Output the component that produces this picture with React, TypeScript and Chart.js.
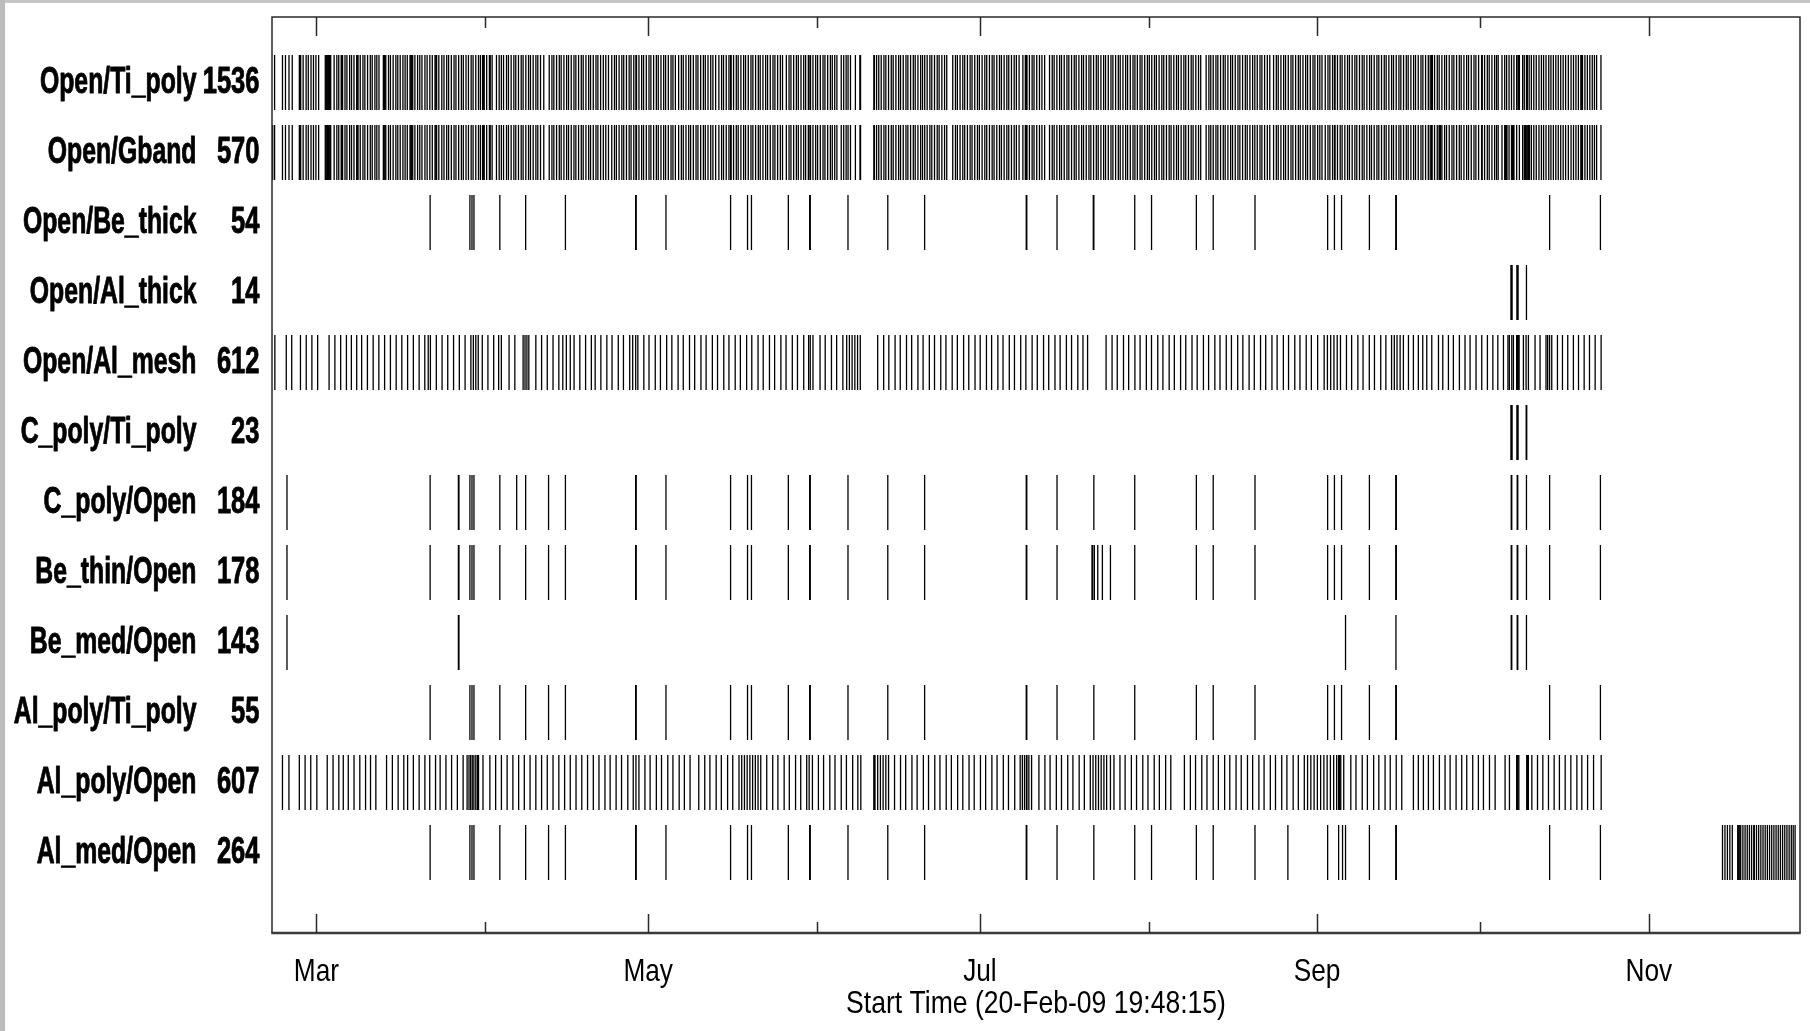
import React, { useEffect, useRef } from "react";
import { Chart, registerables } from "chart.js";

Chart.register(...registerables);

// ---------- labels ----------
const rowNames = [
  "Open/Ti_poly", "Open/Gband", "Open/Be_thick", "Open/Al_thick", "Open/Al_mesh", "C_poly/Ti_poly",
  "C_poly/Open", "Be_thin/Open", "Be_med/Open", "Al_poly/Ti_poly", "Al_poly/Open", "Al_med/Open",
];
const rowCounts = [1536, 570, 54, 14, 612, 23, 184, 178, 143, 55, 607, 264];

// x values are fractional day-of-year 2009 (1 Jan 00:00 = 0)
const axisStartDay = 50.825; // 20-Feb-09 19:48:15
const axisEndDay = 331.8;
const monthTickDays = [59, 90, 120, 151, 181, 212, 243, 273, 304];
const monthTickLabels = ["Mar", "", "May", "", "Jul", "", "Sep", "", "Nov"];
const xTitle = "Start Time (20-Feb-09 19:48:15)";

// ---------- event times ----------
const openBase = [
  51.3, 52.75, 53.3, 53.95, 54.55,
  55.85, 55.95, 56.1, 56.55, 57.1, 57.5, 58.0, 58.45, 58.9, 59.4,
  60.62, 60.75, 60.9, 61.05, 61.2, 61.35, 61.5, 61.62,
  62.25, 62.75, 63.1, 63.55, 63.65, 63.8, 64.25, 64.6, 65.1, 65.45, 65.9,
  66.4, 66.5, 66.65, 67.05, 67.55, 67.9, 68.4, 68.9, 69.25, 69.75, 70.1, 70.5,
  71.3, 71.45, 71.6, 71.75, 72.25, 72.6, 73.1, 73.6, 73.95, 74.4, 74.9, 75.3, 75.7, 76.2, 76.35, 76.5, 76.7,
  77.1, 77.6, 78.0, 78.4, 78.95, 79.35, 79.85, 80.3, 80.8,
  80.95, 81.1, 81.5, 82.05, 82.45, 82.95, 83.3, 83.8, 84.3, 84.65, 85.15, 85.65, 86.0, 86.5, 86.95, 87.45,
  87.8, 88.3, 88.8, 89.15, 89.55, 89.7, 89.85, 90.3,
  90.8, 90.95, 91.3,
  92.1, 92.6, 93.0, 93.4, 93.95, 94.3, 94.8, 95.3, 95.65, 96.15, 96.65, 97.0, 97.5, 98.0, 98.35, 98.85, 99.35,
  99.7, 100.2, 100.8,
  101.8, 102.3, 102.65, 103.15, 103.65, 104.0, 104.5, 105.0, 105.35, 105.85, 106.35, 106.7, 107.2, 107.7,
  108.05, 108.55, 109.05, 109.4, 109.9, 110.4, 110.75, 111.25, 111.75, 112.2, 112.7,
  113.3, 113.8, 114.15, 114.65, 115.15, 115.5, 116.0, 116.5, 116.85, 117.35, 117.75, 117.85, 118.3, 118.8,
  119.15, 119.65, 120.15, 120.5, 121.0, 121.5, 121.85, 122.35, 122.85, 123.2, 123.7, 124.2, 124.55, 125.0,
  125.6, 126.1, 126.45, 126.95, 127.45, 127.8, 128.3, 128.8, 129.15, 129.65, 130.15, 130.5, 131.0, 131.5,
  131.9, 132.4,
  133.0, 133.5, 133.85, 134.35, 134.85, 135.15, 135.25, 135.7, 136.2, 136.55, 137.05, 137.55, 137.9, 138.4,
  138.9, 139.25, 139.75, 140.25, 140.6, 141.1, 141.6, 141.95, 142.45, 142.95, 143.3, 143.8, 144.3, 144.7,
  145.4, 145.9, 146.25, 146.75, 147.25, 147.6, 148.1, 148.6, 148.95, 149.45, 149.75, 149.85, 150.3, 150.8,
  151.15, 151.65, 152.15, 152.5, 153.0, 153.5, 153.85, 154.3, 154.7,
  155.5, 155.95, 156.4, 156.75, 157.2,
  158.1, 158.95, 159.05,
  161.5, 161.6, 162.0, 162.4, 162.85, 163.35, 163.7, 164.2, 164.7, 165.05, 165.55, 166.05, 166.4, 166.9,
  167.4, 167.75, 168.25, 168.75, 169.1, 169.6, 170.1, 170.45, 170.85, 171.3, 171.8, 172.15, 172.65, 173.15,
  173.5, 174.0, 174.5, 174.9,
  176.0, 176.5, 176.85, 177.35, 177.85, 178.2, 178.7, 179.2, 179.55, 180.05, 180.55, 180.9, 181.4, 181.9,
  182.25, 182.75, 183.25, 183.6, 184.1, 184.6, 184.95, 185.45, 185.95, 186.3, 186.8, 187.3, 187.7, 188.2,
  188.9, 189.35, 189.55, 189.65, 190.1, 190.6, 190.95, 191.45, 191.95, 192.4, 192.9,
  193.8, 194.3, 194.65, 195.15, 195.65, 196.0, 196.5, 197.0, 197.35, 197.85, 198.35, 198.7, 199.2, 199.7,
  200.05, 200.55, 201.05, 201.4, 201.9, 202.4, 202.75, 203.25, 203.75, 204.1, 204.6, 205.1, 205.45, 205.95,
  206.45, 206.8, 207.3, 207.8, 208.15, 208.65, 209.15, 209.5, 209.95, 210.45, 210.8, 211.3, 211.8, 212.15,
  212.6, 213.1, 213.45, 213.95, 214.45, 214.8, 215.3, 215.8, 216.15, 216.65, 217.15, 217.5, 218.0, 218.5,
  218.85, 219.35, 219.85, 220.2, 220.7, 221.2, 221.6,
  222.6, 223.1, 223.45, 223.9, 224.4, 224.75, 225.25, 225.75, 226.1, 226.6, 227.1, 227.45, 227.95, 228.45,
  228.8, 229.3, 229.8, 230.15, 230.65, 231.15, 231.55, 232.0, 232.5, 232.85, 233.35, 233.85, 234.3,
  235.0, 235.5, 235.85, 236.35, 236.85, 237.2, 237.7, 238.2, 238.55, 239.05, 239.55, 239.9, 240.4, 240.9,
  241.25, 241.75, 242.25, 242.6, 243.1, 243.5, 243.9,
  244.5, 245.0, 245.35, 245.85, 246.2, 246.3, 246.75, 247.25, 247.6, 248.1, 248.6, 248.95, 249.45, 249.95,
  250.3, 250.8, 251.3, 251.65, 252.15, 252.65, 253.0, 253.5, 254.0, 254.35, 254.85, 255.35, 255.7, 256.2,
  256.7, 257.05, 257.55, 258.05, 258.4, 258.9, 259.4, 259.75, 260.25, 260.75, 261.1, 261.6, 262.1, 262.45,
  262.95, 263.45, 263.8, 264.05, 264.15, 264.6, 265.1, 265.45, 265.95, 266.45, 266.8, 267.3, 267.8, 268.15,
  268.65, 269.15, 269.5, 270.0, 270.5, 270.85, 271.35, 271.85, 272.2, 272.7, 273.25, 273.35, 273.8, 274.3,
  274.65, 275.15, 275.65, 276.0, 276.3,
  277.0, 277.5, 277.85, 278.3, 278.75, 279.2, 279.7, 280.2, 280.8,
  281.1, 281.6, 282.0, 282.4, 282.85, 283.3, 283.8, 284.25, 284.65, 285.1, 285.6, 286.0, 286.45, 286.9,
  287.35, 287.8, 288.25, 288.7, 289.2,
  289.7, 290.15, 290.6, 291.05, 291.5, 291.65, 291.8, 292.25, 292.7, 293.15, 293.6, 294.0, 294.4,
  295.2,
];
const openTiPolyExtra = [
  61.0, 61.4, 71.5, 89.6, 89.65, 90.85, 159.0, 264.1, 264.2, 273.3,
  279.95, 280.05, 280.15, 281.5, 281.55, 281.65, 291.7, 291.75,
];
const openGbandExtra = [
  50.95, 265.5, 265.6, 265.7, 277.65, 277.75, 277.9, 278.9, 279.0, 279.1,
  281.2, 281.3, 281.45, 281.75, 281.9, 282.05,
];
const openBeThick = [
  79.9, 87.22, 87.6, 87.96, 92.72, 97.47, 104.78, 117.69, 117.79, 123.27, 135.15, 138.27, 138.99,
  145.77, 149.7, 149.8, 156.74, 164.06, 170.83, 189.52, 189.62, 195.18, 201.85, 201.95, 209.47,
  212.56, 220.8, 223.9, 231.58, 244.94, 246.19, 247.5, 252.62, 257.47, 257.57, 285.76, 295.1,
];
const openAlThick = [278.65, 278.75, 278.85, 279.75, 279.85, 279.95, 281.5];
const openAlMesh = [
  51.35, 53.45, 54.45, 56.06, 57.12, 58.16, 59.22, 61.32, 62.39, 63.45, 64.51, 65.42, 66.4, 67.31,
  68.37, 69.43, 70.47, 71.53, 72.6, 73.66, 74.7, 75.76, 76.82, 77.88, 78.92, 79.55, 79.95, 81.04,
  82.1, 83.14, 84.21, 85.27, 86.33, 87.4, 87.85, 88.3, 88.75, 89.49, 90.53, 91.59, 92.5,
  93.0, 94.42, 95.48, 97.0, 97.35, 97.7, 98.05, 99.34, 100.4,
  101.44, 102.5, 103.57, 104.3, 104.95, 105.67, 106.37, 107.43, 108.49, 109.55, 110.25,
  111.3, 112.4, 113.35, 114.5, 115.45, 116.6, 117.15, 117.7, 118.1, 119.2, 120.15, 121.3, 122.25,
  123.4, 124.35, 125.5, 126.45, 127.6, 128.55, 129.7, 130.65, 131.8, 132.75, 133.9, 134.85, 136.0,
  136.95, 138.1, 139.05, 140.2, 141.15, 142.3, 143.25, 144.4, 145.35, 146.5, 147.45, 148.6, 149.5,
  149.8, 150.3, 151.6, 152.55, 153.7, 154.65, 155.8, 156.5, 157.0, 157.5, 158.0, 158.5, 159.0,
  162.2, 163.3, 164.25, 165.4, 166.35, 167.5, 168.45, 169.6, 170.55, 171.7, 172.65, 173.8, 174.75,
  175.9, 176.85, 178.0, 178.95, 180.1, 181.05, 182.2, 183.15, 184.3, 185.25, 186.4, 187.35, 188.5,
  189.45, 190.6, 191.55, 192.7, 193.65, 194.8, 195.75, 196.9, 197.85, 199.0, 199.95, 200.8,
  204.2, 205.3, 206.25, 207.4, 208.35, 209.5, 210.45, 211.6, 212.55, 213.7, 214.65, 215.8, 216.75,
  217.9, 218.85, 220.0, 220.95, 222.1, 223.05, 224.2, 225.15, 226.3, 227.25, 228.4, 229.35, 230.5,
  231.45, 232.6, 233.55, 234.7, 235.65, 236.8, 237.75, 238.9, 239.85, 241.0, 241.95, 243.1, 244.3,
  244.9, 245.5, 246.1, 246.7, 247.3, 248.4, 249.35, 250.5, 251.45, 252.6, 253.55,
  254.7, 255.65, 256.7, 257.2, 257.7,
  258.27, 258.87, 259.8, 260.71, 261.62, 262.43, 263.17, 264.09, 265.32, 266.11, 267.15, 268.06,
  269.17, 270.2, 271.13, 272.23, 273.28, 274.32, 275.32, 276.23, 277.27, 278.1, 278.35, 278.8,
  279.1, 279.7, 279.85, 280.0, 280.15, 280.94, 281.43, 281.86, 283.08, 284.0, 285.1, 285.4,
  285.75, 286.15, 287.2, 288.12, 289.09, 290.13, 291.07, 292.11, 293.09, 294.13, 295.23,
];
const cPolyTiPoly = [278.65, 278.75, 278.85, 279.75, 279.85, 279.95, 281.45, 281.55];
const cPolyOpen = [
  53.58, 79.9, 85.1, 85.2, 87.22, 87.6, 87.96, 92.72, 95.82, 97.47, 101.68, 104.78, 117.69, 117.79,
  123.27, 135.15, 138.27, 138.99, 145.77, 149.7, 149.8, 156.74, 164.06, 170.83, 189.52, 189.62, 195.18,
  201.95, 209.47, 220.8, 223.9, 231.58, 244.94, 246.19, 247.5, 252.62, 257.47, 257.57,
  278.7, 278.8, 279.8, 279.9, 281.5, 285.76, 295.1,
];
const beThinOpen = [
  53.58, 79.9, 85.1, 85.2, 87.22, 87.6, 87.96, 92.72, 97.47, 101.68, 104.78, 117.69, 117.79, 123.27,
  135.15, 138.27, 138.99, 145.77, 149.7, 149.8, 156.74, 164.06, 170.83, 189.52, 189.62, 195.18, 201.61,
  201.75, 202.04, 202.67, 203.52, 205.0, 209.47, 220.8, 223.9, 231.58, 244.94, 246.19, 247.5, 252.62,
  257.47, 257.57, 278.7, 278.8, 279.8, 279.9, 281.5, 285.76, 295.1,
];
const beMedOpen = [53.58, 85.1, 85.2, 248.23, 257.5, 278.7, 278.8, 279.8, 279.9, 281.5];
const alPolyTiPoly = [
  79.9, 87.22, 87.6, 87.96, 92.72, 97.47, 101.68, 104.78, 117.69, 117.79, 123.27, 135.15, 138.27,
  138.99, 145.77, 149.7, 149.8, 156.74, 164.06, 170.83, 189.52, 189.62, 195.18, 201.95, 209.47, 220.8,
  223.9, 231.58, 244.94, 246.19, 247.5, 252.62, 257.47, 257.57, 285.76, 295.1,
];
const alPolyOpen = [
  52.75, 53.94, 55.85, 56.91, 57.95, 59.07, 60.98, 62.05, 63.11, 63.93, 64.85, 65.91, 66.97, 68.03,
  68.94, 69.92, 71.89, 72.96, 74.02, 75.06, 75.76, 76.82, 77.88, 78.94, 79.83, 80.9, 81.74, 82.81,
  83.85, 84.91, 85.97, 86.7, 87.05, 87.35, 87.65, 87.95, 88.3, 88.6, 88.8, 89.62, 90.89,
  91.95, 93.01, 94.06, 95.12, 96.18, 97.22, 98.28, 99.34, 100.4, 101.44, 102.5, 103.57, 104.63,
  105.67, 106.73, 107.79, 108.85, 109.91,
  110.95, 112.05, 113.0, 114.1, 115.1, 116.25, 117.25, 117.75, 118.3, 119.4, 120.35, 121.5, 122.45,
  123.6, 124.55, 125.7, 126.65, 127.7, 129.3, 130.4, 131.35, 132.5, 133.45, 134.6, 135.55, 136.7,
  137.2, 137.7, 138.2, 138.7, 139.2, 139.7, 140.2, 140.7, 141.8, 142.9, 143.85, 145.0,
  145.95, 147.1, 148.05, 149.15, 149.6, 150.2, 151.3, 152.25, 153.4, 154.35, 155.5, 156.45, 157.6,
  158.55, 159.1,
  161.5, 161.6, 161.7, 162.2, 162.7, 163.2, 163.7, 164.2, 165.3, 166.4, 167.35, 168.5,
  169.45, 170.6, 171.55, 172.7, 173.65, 174.8, 175.75, 176.9, 177.85, 179.0, 179.95, 181.1, 182.05,
  183.2, 184.15, 185.3, 186.25, 187.4, 188.4, 188.8, 189.2, 189.55, 189.65, 190.0, 190.5,
  191.85, 192.95, 193.9, 195.05, 196.0, 197.15, 198.1, 199.25, 200.2, 201.3, 201.8, 202.3, 202.8,
  203.3, 203.8, 204.3, 205.0, 205.65, 206.75, 207.7, 208.85, 209.8, 210.95, 211.9, 213.05,
  214.0, 215.15, 216.1, 218.6, 219.7, 220.65, 221.8, 222.75, 223.9, 224.85, 226.0, 226.95, 228.1,
  229.05, 230.2, 231.15, 232.3, 233.25, 234.4, 235.35, 236.5, 237.45, 238.6, 239.55, 240.65, 241.25,
  241.85, 242.45, 243.05, 243.65, 244.25, 244.85, 245.45, 246.05, 246.6, 246.95, 247.15, 247.35,
  247.9, 249.2, 250.15, 251.3, 252.25, 253.4, 254.35, 255.5, 256.45,
  257.55, 258.57, 260.71, 261.62, 262.55, 263.47, 264.39, 265.49, 266.53, 267.46, 268.56, 269.6,
  270.52, 271.62, 272.66, 273.59, 274.7, 275.74, 277.57, 278.37, 279.7, 279.8, 279.95, 280.1, 281.55,
  281.7, 281.85, 282.49, 283.53, 284.51, 285.55, 286.59, 287.56, 288.62, 289.66, 290.77, 291.68,
  292.74, 293.84, 295.24,
];
const alMedOpen = [
  79.9, 87.22, 87.6, 87.96, 92.72, 97.47, 101.68, 104.78, 117.69, 117.79, 123.27, 135.15, 138.27,
  138.99, 145.77, 149.7, 149.8, 156.74, 164.06, 170.83, 189.52, 189.62, 195.18, 201.95, 209.47, 212.56,
  220.8, 223.9, 231.58, 237.63, 244.94, 246.96, 247.68, 248.23, 252.62, 257.47, 257.57, 285.76, 295.1,
  317.55, 318.0, 318.45, 318.9, 319.35,
  320.35, 320.45, 320.6, 320.75, 320.9, 321.3, 321.7, 322.1, 322.5, 322.9, 323.3, 323.4, 323.8, 324.2,
  324.6, 325.0, 325.4, 325.8, 326.2, 326.6, 327.0, 327.4, 327.8, 328.2, 328.6, 329.0, 329.4, 329.8,
  330.2, 330.55, 330.9,
];

const openTiPoly = [...openBase, ...openTiPolyExtra];
const openGband = [...openBase, ...openGbandExtra];

const rowEvents = [
  openTiPoly, openGband, openBeThick, openAlThick, openAlMesh, cPolyTiPoly,
  cPolyOpen, beThinOpen, beMedOpen, alPolyTiPoly, alPolyOpen, alMedOpen,
];

const FONT = '"Liberation Sans", Arial, Helvetica, sans-serif';

function drawScaledText(
  ctx: CanvasRenderingContext2D, text: string, x: number, y: number, sx: number,
  align: CanvasTextAlign, strokeW = 0,
) {
  ctx.save();
  ctx.translate(x, y);
  ctx.scale(sx, 1);
  ctx.textAlign = align;
  ctx.textBaseline = "alphabetic";
  ctx.fillText(text, 0, 0);
  if (strokeW > 0) {
    ctx.lineWidth = strokeW;
    ctx.strokeStyle = ctx.fillStyle as string;
    ctx.lineJoin = "round";
    ctx.strokeText(text, 0, 0);
  }
  ctx.restore();
}

const framePlugin = {
  id: "matlabFrame",
  beforeDraw(chart: any) {
    const { ctx, width, height } = chart;
    ctx.save();
    ctx.fillStyle = "#ffffff";
    ctx.fillRect(0, 0, width, height);
    ctx.fillStyle = "#c6c6c6";
    ctx.fillRect(0, 0, width, 3);
    ctx.fillStyle = "#bcbcbc";
    ctx.fillRect(0, 0, 5, height);
    ctx.restore();
  },
  afterDraw(chart: any) {
    const { ctx, chartArea: a, scales } = chart;
    const xs = scales.x;
    const ys = scales.y;
    ctx.save();
    ctx.strokeStyle = "#2a2a2a";
    ctx.lineWidth = 1.5;
    ctx.beginPath();
    ctx.moveTo(a.left, a.bottom);
    ctx.lineTo(a.left, a.top);
    ctx.lineTo(a.right, a.top);
    ctx.lineTo(a.right, a.bottom);
    ctx.stroke();
    ctx.strokeStyle = "#3a3a3a";
    ctx.lineWidth = 2.4;
    ctx.beginPath();
    ctx.moveTo(a.left - 0.7, a.bottom);
    ctx.lineTo(a.right + 0.7, a.bottom);
    ctx.stroke();

    // month ticks (inward, top and bottom)
    ctx.strokeStyle = "#2a2a2a";
    ctx.lineWidth = 1.5;
    monthTickDays.forEach((d, i) => {
      const x = Math.round(xs.getPixelForValue(d)) + 0.5;
      const len = monthTickLabels[i] ? 19 : 11;
      ctx.beginPath();
      ctx.moveTo(x, a.top);
      ctx.lineTo(x, a.top + len);
      ctx.moveTo(x, a.bottom);
      ctx.lineTo(x, a.bottom - len);
      ctx.stroke();
    });

    ctx.fillStyle = "#000000";
    // month labels
    ctx.font = `32px ${FONT}`;
    monthTickDays.forEach((d, i) => {
      if (!monthTickLabels[i]) return;
      drawScaledText(ctx, monthTickLabels[i], xs.getPixelForValue(d), 981, 0.82, "center");
    });
    // x title
    drawScaledText(ctx, xTitle, (a.left + a.right) / 2, 1013, 0.83, "center");

    // row labels
    ctx.font = `bold 37px ${FONT}`;
    rowNames.forEach((name, i) => {
      const y = ys.getPixelForValue(i + 1) + 10.5;
      drawScaledText(ctx, name, 196.5, y, 0.67, "right", 0.9);
      drawScaledText(ctx, String(rowCounts[i]), 259.5, y, 0.69, "right", 0.9);
    });
    ctx.restore();
  },
};

export default function App() {
  const canvasRef = useRef<HTMLCanvasElement | null>(null);

  useEffect(() => {
    const canvas = canvasRef.current;
    if (!canvas) return;
    const datasets = rowEvents.map((events, i) => ({
      label: rowNames[i],
      data: events.map((x) => ({ x, y: i + 1 })),
      pointStyle: "line" as const,
      rotation: 90,
      radius: 27.5,
      hoverRadius: 27.5,
      hitRadius: 0,
      borderWidth: 1.3,
      borderColor: "#000000",
      backgroundColor: "#000000",
    }));
    const chart = new Chart(canvas, {
      type: "scatter",
      data: { datasets },
      options: {
        animation: false,
        responsive: false,
        devicePixelRatio: 1,
        events: [],
        layout: { autoPadding: false, padding: { left: 272, top: 17, right: 10, bottom: 98 } },
        plugins: { legend: { display: false }, tooltip: { enabled: false }, title: { display: false } },
        scales: {
          x: { type: "linear", min: axisStartDay, max: axisEndDay, display: false },
          y: { type: "linear", min: 0.064, max: 13.15, reverse: true, display: false },
        },
      },
      plugins: [framePlugin],
    });
    return () => chart.destroy();
  }, []);

  return (
    <div style={{ position: "absolute", left: 0, top: 0, width: 1810, height: 1031, background: "#fff" }}>
      <canvas ref={canvasRef} width={1810} height={1031} style={{ display: "block", width: 1810, height: 1031 }} />
    </div>
  );
}
